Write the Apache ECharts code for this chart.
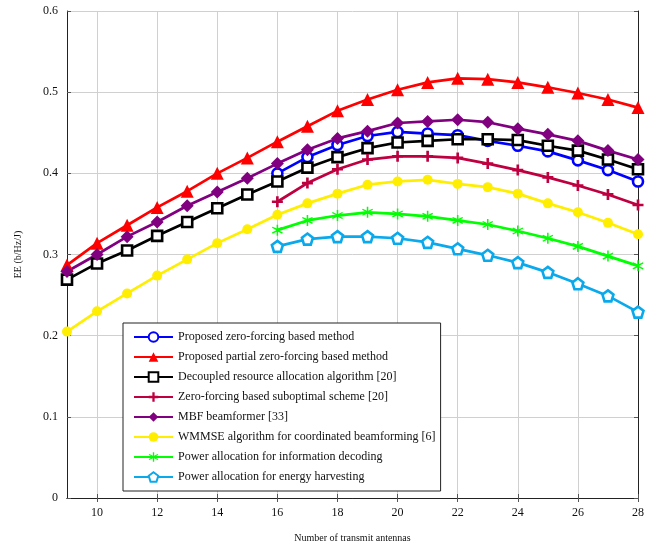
<!DOCTYPE html>
<html>
<head>
<meta charset="utf-8">
<script src="https://cdn.jsdelivr.net/npm/echarts@6/dist/echarts.min.js"></script>
<style>html,body{margin:0;padding:0;background:#fff}#c{width:652px;height:541px}</style>
</head>
<body>
<div id="c"></div>
<script>
const xFull = [9,10,11,12,13,14,15,16,17,18,19,20,21,22,23,24,25,26,27,28];
const xPart = [16,17,18,19,20,21,22,23,24,25,26,27,28];
const xTicks = [10,12,14,16,18,20,22,24,26,28];

const zfMethod   = [0.400,0.420,0.435,0.446,0.451,0.449,0.447,0.440,0.434,0.427,0.416,0.404,0.390];
const pzfMethod  = [0.287,0.314,0.336,0.358,0.378,0.400,0.419,0.439,0.458,0.477,0.491,0.503,0.512,0.517,0.516,0.512,0.506,0.499,0.491,0.481];
const decoupled  = [0.269,0.289,0.305,0.323,0.340,0.357,0.374,0.390,0.407,0.420,0.431,0.438,0.440,0.442,0.442,0.441,0.434,0.428,0.417,0.405];
const zfSubopt   = [0.365,0.388,0.405,0.417,0.421,0.421,0.419,0.412,0.404,0.395,0.385,0.374,0.361];
const mbf        = [0.279,0.300,0.322,0.340,0.360,0.377,0.394,0.412,0.429,0.443,0.452,0.462,0.464,0.466,0.463,0.455,0.448,0.440,0.428,0.417];
const wmmse      = [0.205,0.230,0.252,0.274,0.294,0.314,0.331,0.349,0.363,0.375,0.386,0.390,0.392,0.387,0.383,0.375,0.363,0.352,0.339,0.325];
const infoDec    = [0.330,0.342,0.348,0.352,0.350,0.347,0.342,0.337,0.329,0.320,0.310,0.298,0.286];
const energyHarv = [0.310,0.319,0.322,0.322,0.320,0.315,0.307,0.299,0.290,0.278,0.264,0.249,0.229];

const names = [
  'Proposed zero-forcing based method',
  'Proposed partial zero-forcing based method',
  'Decoupled resource allocation algorithm [20]',
  'Zero-forcing based suboptimal scheme [20]',
  'MBF beamformer [33]',
  'WMMSE algorithm for coordinated beamforming [6]',
  'Power allocation for information decoding',
  'Power allocation for energy harvesting'
];

const FONT = '"Liberation Serif", "DejaVu Serif", serif';
const plusPath = 'path://M3.8,0H6.2V3.8H10V6.2H6.2V10H3.8V6.2H0V3.8H3.8Z';
const pentPath = 'path://M50,2L97,36L79,92L21,92L3,36Z';
const starPath = 'path://M44,0H56V36L87,18L93,28L62,46V54L93,72L87,82L56,64V100H44V64L13,82L7,72L38,54V46L7,28L13,18L44,36Z';

function pairs(xs, ys){ return xs.map((x,i)=>[x, ys[i]]); }

function mk(name, xs, ys, color, symbol, size, hollow, bw){
  return {
    name, type:'line', data: pairs(xs, ys),
    symbol, symbolSize: size, showSymbol:true,
    lineStyle:{color, width:2.7},
    itemStyle:{color: hollow ? '#fff' : color, borderColor: color, borderWidth: bw},
    color: color,
    emphasis:{disabled:true}, animation:false
  };
}

const series = [
  mk(names[0], xPart, zfMethod, '#0000ff', 'circle', 10, true, 2.6),
  mk(names[1], xFull, pzfMethod, '#ff0000', 'triangle', 13, false, 0),
  mk(names[2], xFull, decoupled, '#000000', 'rect', 10, true, 2.6),
  mk(names[3], xPart, zfSubopt, '#bf0040', plusPath, 11, false, 0),
  mk(names[4], xFull, mbf, '#800080', 'diamond', 13, false, 0),
  mk(names[5], xFull, wmmse, '#ffee00', 'circle', 10, false, 0),
  mk(names[6], xPart, infoDec, '#00ff00', starPath, 11, false, 0),
  mk(names[7], xPart, energyHarv, '#0aa9ec', pentPath, 11, true, 2.6)
];

const axisLineStyle = {lineStyle:{color:'#222', width:1}};
const chart = echarts.init(document.getElementById('c'), null, {renderer:'canvas'});
chart.setOption({
  backgroundColor:'#fff',
  animation:false,
  grid:{left:67, right:14, top:11, bottom:43, containLabel:false, outerBoundsMode:'none'},
  legend:{
    orient:'vertical', left:123, top:323,
    padding:[8,5,8,10],
    backgroundColor:'#fff', borderColor:'#222', borderWidth:1,
    itemWidth:39, itemHeight:12, itemGap:8,
    textStyle:{fontFamily:FONT, fontSize:12, color:'#111'},
    data: names
  },
  xAxis:[{
    type:'value', min:9, max:28, position:'bottom',
    name:'Number of transmit antennas', nameLocation:'middle', nameGap:35,
    nameTextStyle:{fontFamily:FONT, fontSize:10, color:'#111'},
    axisLine:axisLineStyle,
    axisTick:{inside:true, length:4, customValues:xTicks, lineStyle:{color:'#555'}},
    axisLabel:{customValues:xTicks, fontFamily:FONT, fontSize:12, color:'#111', margin:9},
    splitLine:{show:true, lineStyle:{color:'#d0d0d0', width:1}}
  },{
    type:'value', min:9, max:28, position:'top',
    axisLine:axisLineStyle,
    axisTick:{inside:true, length:4, customValues:xTicks, lineStyle:{color:'#555'}},
    axisLabel:{show:false}, splitLine:{show:false}
  }],
  yAxis:[{
    type:'value', min:0, max:0.6, interval:0.1, position:'left',
    name:'EE (b/Hz/J)', nameLocation:'middle', nameGap:44,
    nameTextStyle:{fontFamily:FONT, fontSize:10, color:'#111'},
    axisLine:{show:true, lineStyle:{color:'#222', width:1}},
    axisTick:{show:true, inside:true, length:4, lineStyle:{color:'#555'}},
    axisLabel:{fontFamily:FONT, fontSize:12, color:'#111', margin:9,
      formatter:v=> v===0 ? '0' : v.toFixed(1)},
    splitLine:{show:true, lineStyle:{color:'#d0d0d0', width:1}}
  },{
    type:'value', min:0, max:0.6, interval:0.1, position:'right',
    axisLine:{show:true, lineStyle:{color:'#222', width:1}},
    axisTick:{show:true, inside:true, length:4, lineStyle:{color:'#555'}},
    axisLabel:{show:false}, splitLine:{show:false}
  }],
  series: series
});
</script>
</body>
</html>
